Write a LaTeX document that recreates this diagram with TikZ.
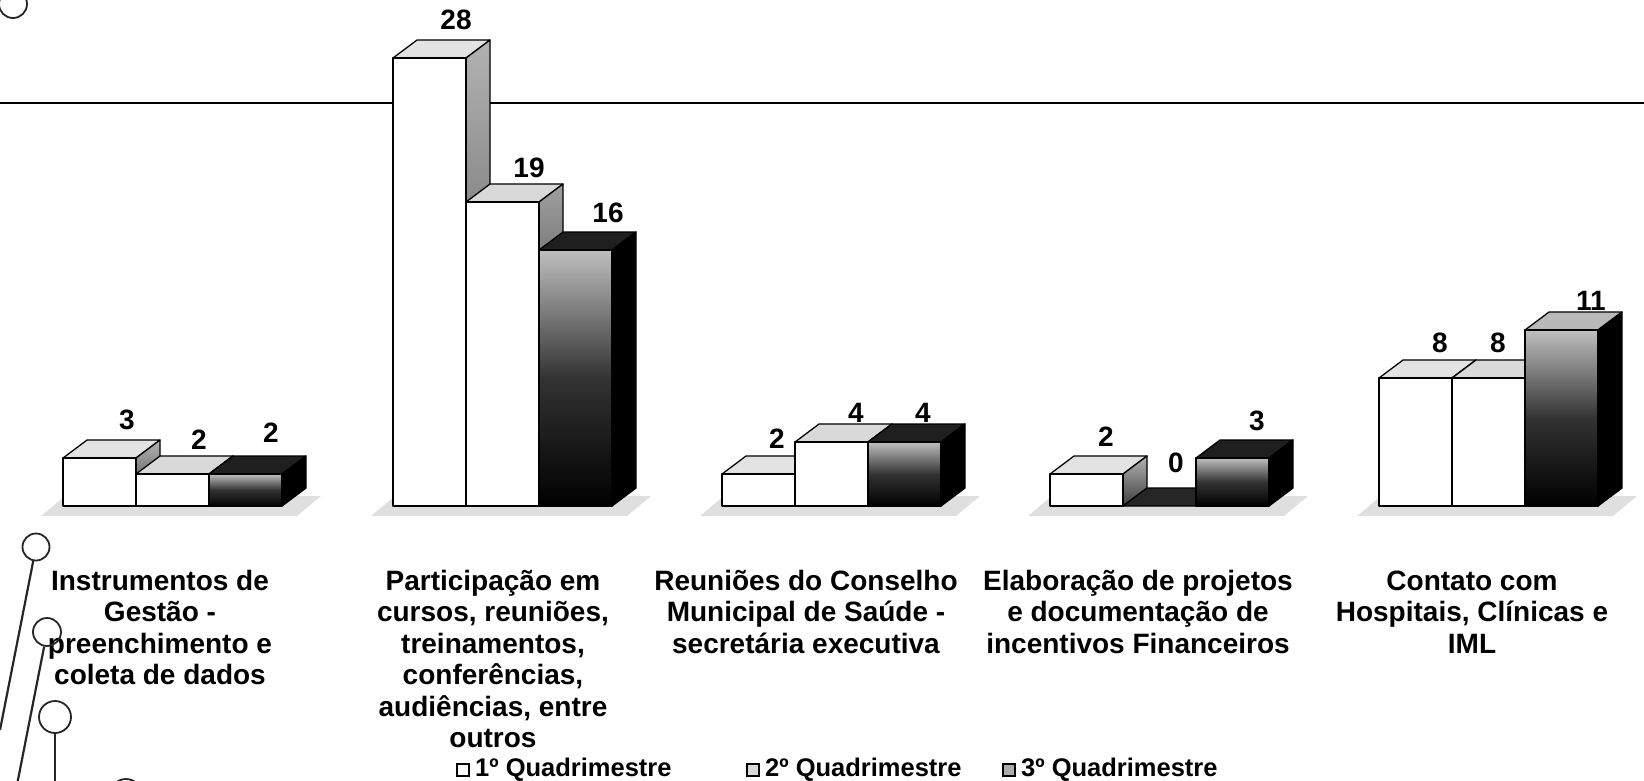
\documentclass[tikz,border=0pt]{standalone}
\usepackage{fontspec}
\setmainfont{Liberation Sans}
\newcommand{\qbar}[5]{%
  \pgfmathsetmacro{\qt}{506-16*#2}%
  \pgfmathsetmacro{\qr}{#1+73}%
  \path[#4,edge] (#1,\qt) -- ++(24,-18) -- ++(73,0) -- (\qr,\qt) -- cycle;
  \path[#5,edge] (\qr,\qt) -- ++(24,-18) -- (\qr+24,488) -- (\qr,506) -- cycle;
  \ifdim #2pt>0pt \path[#3,edge] (#1,\qt) rectangle (\qr,506);\fi
}
\newcommand{\qfloor}[1]{%
  \fill[floorfill] (#1-22,516) -- (#1+234,516) -- (#1+258,496) -- (#1+2,496) -- cycle;
}
\newcommand{\qstrut}{\rule{0pt}{21pt}}
\begin{document}
\begin{tikzpicture}[x=1pt,y=-1pt,
  edge/.style={draw=black,line width=1.3pt,line join=round},
  fronta/.style={fill=white},
  topa/.style={fill=gray!22},
  sidea/.style={top color=gray!60,bottom color=black!75},
  frontb/.style={fill=white},
  topb/.style={fill=gray!30},
  sideb/.style={top color=gray!75,bottom color=black},
  frontc/.style={top color=gray!50,bottom color=black,middle color=black!80},
  topc/.style={fill=black!88},
  topcl/.style={fill=gray!55},
  sidec/.style={fill=black},
  topz/.style={fill=black!85},
  floorfill/.style={fill=gray!25},
  val/.style={font=\bfseries\fontsize{28}{32}\selectfont,inner sep=0pt},
  cat/.style={font=\bfseries\fontsize{28}{31.5}\selectfont,align=center,inner sep=0pt,anchor=north},
  leg/.style={font=\bfseries\fontsize{25.5}{30}\selectfont,inner sep=0pt,anchor=west},
  legbox/.style={draw=black,line width=1.2pt,minimum size=12pt,inner sep=0pt},
  hole/.style={circle,draw=black!85,line width=1.8pt,inner sep=0pt},
  holeline/.style={draw=black!85,line width=2.2pt}
]
\useasboundingbox (0,0) rectangle (1644,780);
\clip (0,0) rectangle (1644,780);

% horizontal rule
\draw[line width=2.6pt] (0,103) -- (1644,103);

% floors
\qfloor{63}
\qfloor{393}
\qfloor{722}
\qfloor{1050}
\qfloor{1379}

% group 1
\qbar{63}{3}{fronta}{topa}{sidea}
\qbar{136}{2}{frontb}{topb}{sideb}
\qbar{209}{2}{frontc}{topc}{sidec}
% group 2
\qbar{393}{28}{fronta}{topa}{sidea}
\qbar{466}{19}{frontb}{topb}{sideb}
\qbar{539}{16}{frontc}{topc}{sidec}
% group 3
\qbar{722}{2}{fronta}{topa}{sidea}
\qbar{795}{4}{frontb}{topb}{sideb}
\qbar{868}{4}{frontc}{topc}{sidec}
% group 4
\qbar{1050}{2}{fronta}{topa}{sidea}
\qbar{1123}{0}{frontb}{topz}{sideb}
\qbar{1196}{3}{frontc}{topc}{sidec}
% group 5
\qbar{1379}{8}{fronta}{topa}{sidea}
\qbar{1452}{8}{frontb}{topb}{sideb}
\qbar{1525}{11}{frontc}{topcl}{sidec}

% value labels
\node[val] (v11) at (127,420) {3};
\node[val] (v12) at (199,440) {2};
\node[val] (v13) at (271,433) {2};
\node[val] (v21) at (456,20) {28};
\node[val] (v22) at (529,168) {19};
\node[val] (v23) at (608,213) {16};
\node[val] (v31) at (777,439) {2};
\node[val] (v32) at (856,413) {4};
\node[val] (v33) at (923,413) {4};
\node[val] (v41) at (1106,437) {2};
\node[val] (v42) at (1176,463) {0};
\node[val] (v43) at (1257,421) {3};
\node[val] (v51) at (1440,343) {8};
\node[val] (v52) at (1498,343) {8};
\node[val] (v53) at (1591,301) {11};

% category labels
\node[cat] (c1) at (160,569) {\qstrut Instrumentos de\\Gestão -\\preenchimento e\\coleta de dados};
\node[cat] (c2) at (493,569) {\qstrut Participação em\\cursos, reuniões,\\treinamentos,\\conferências,\\audiências, entre\\outros};
\node[cat] (c3) at (806,569) {\qstrut Reuniões do Conselho\\Municipal de Saúde -\\secretária executiva};
\node[cat] (c4) at (1138,569) {\qstrut Elaboração de projetos\\e documentação de\\incentivos Financeiros};
\node[cat] (c5) at (1472,569) {\qstrut Contato com\\Hospitais, Clínicas e\\IML};

% legend
\node[legbox,fill=white] (m1) at (463,770) {};
\node[leg] (l1) at (475,770) {1º Quadrimestre};
\node[legbox,fill=gray!30] (m2) at (753,770) {};
\node[leg] (l2) at (765,770) {2º Quadrimestre};
\node[legbox,fill=gray!65] (m3) at (1009,770) {};
\node[leg] (l3) at (1021,770) {3º Quadrimestre};

% binder holes
\node[hole,minimum size=28pt] (h0) at (13,4) {};
\node[hole,minimum size=27pt] (h1) at (36,547) {};
\node[hole,minimum size=28pt] (h2) at (47,632) {};
\node[hole,minimum size=32pt] (h3) at (55,717) {};
\node[hole,minimum size=32pt] (h4) at (126,795) {};
\coordinate (e1) at (0,730);
\coordinate (e2) at (16,790);
\coordinate (e3) at (55,800);
\draw[holeline] (h1) -- (e1);
\draw[holeline] (h2) -- (e2);
\draw[holeline] (h3) -- (e3);
\end{tikzpicture}
\end{document}
